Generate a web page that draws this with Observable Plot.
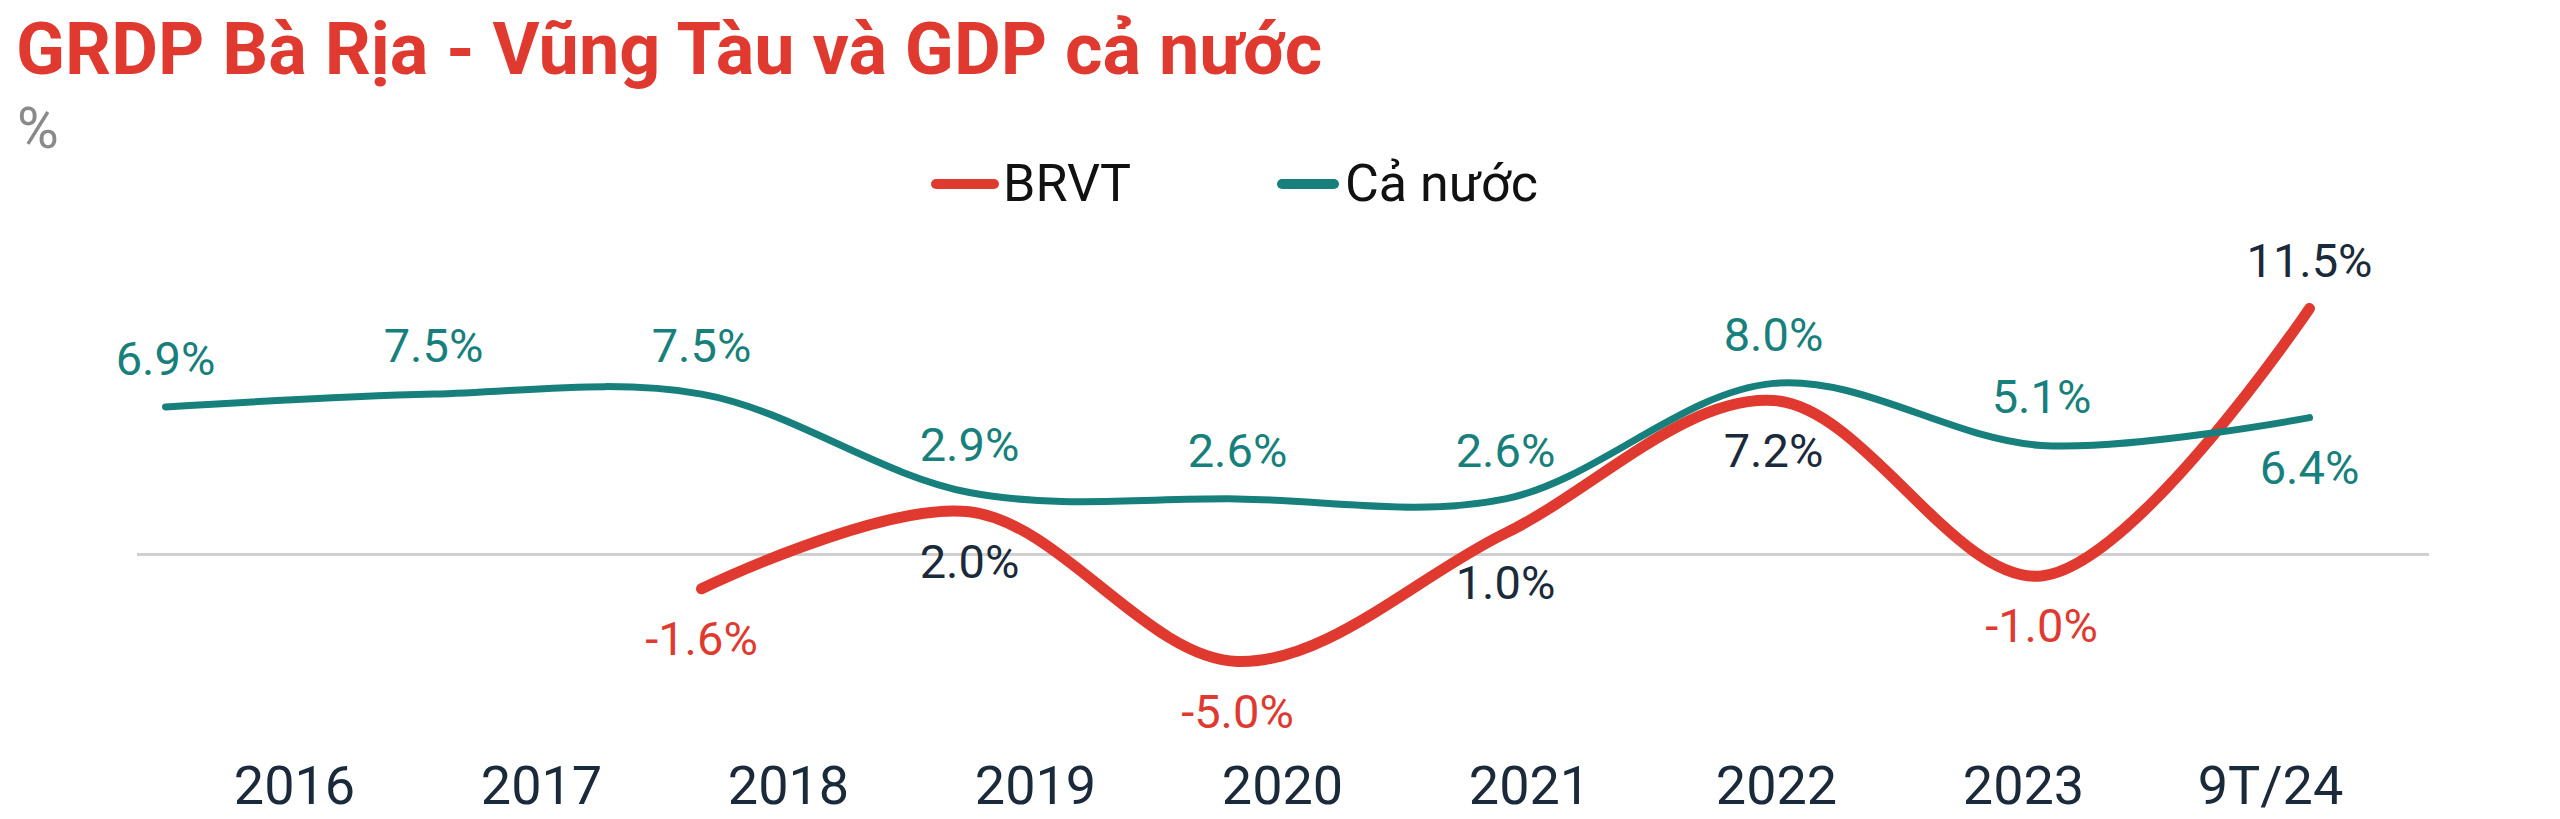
<!DOCTYPE html>
<html>
<head>
<meta charset="utf-8">
<script src="https://cdn.jsdelivr.net/npm/d3@7"></script>
<script src="https://cdn.jsdelivr.net/npm/@observablehq/plot@0.6"></script>
<style>
  html, body { margin: 0; padding: 0; background: #fff; }
  body { width: 2560px; height: 819px; overflow: hidden; position: relative; font-family: Roboto, "Noto Sans", sans-serif; }
  #title { position: absolute; left: 16px; top: 14px; font-size: 72px; line-height: 72px; font-weight: 700; color: #e03a30; white-space: nowrap; }
  #unit { position: absolute; left: 17px; top: 100px; font-size: 57px; line-height: 57px; color: #8a8a8a; }
  .leg-item { position: absolute; top: 158px; height: 52px; }
  .leg-sw { position: absolute; left: 0; top: 21px; width: 68px; height: 10px; border-radius: 5px; }
  .leg-tx { position: absolute; left: 72px; top: 0; font-size: 52px; line-height: 52px; color: #111; white-space: nowrap; }
  #chart { position: absolute; left: 0; top: 210px; }
  #axis { position: absolute; left: 0; top: 740px; }
</style>
</head>
<body>
<div id="title">GRDP Bà Rịa - Vũng Tàu và GDP cả nước</div>
<div id="unit">%</div>
<div id="legend"></div>
<div id="chart"></div>
<div id="axis"></div>
<script>
// ---- data ----
const categories = ["2016", "2017", "2018", "2019", "2020", "2021", "2022", "2023", "9T/24"];
const brvtValues = [null, null, -1.6, 2.0, -5.0, 1.0, 7.2, -1.0, 11.5];
const caNuocValues = [6.9, 7.5, 7.5, 2.9, 2.6, 2.6, 8.0, 5.1, 6.4];
const seriesNames = ["BRVT", "Cả nước"];
const seriesColors = ["#e03a30", "#17807c"];
const darkText = "#1b2a3a";

// ---- rows ----
const seriesValues = [brvtValues, caNuocValues];
const rows = [];
seriesNames.forEach((name, s) => {
  seriesValues[s].forEach((v, i) => {
    if (v == null) return;
    const other = seriesValues[1 - s][i];
    rows.push({series: name, s, cat: categories[i], value: v, above: other == null || v >= other});
  });
});
const labelFill = d => d.s === 1 ? seriesColors[1] : (d.value < 0 ? seriesColors[0] : darkText);
const fmt = d => d.value.toFixed(1) + "%";

// ---- legend ----
const legendX = [931, 1277];
const legend = document.getElementById("legend");
seriesNames.forEach((name, s) => {
  const item = document.createElement("div");
  item.className = "leg-item";
  item.style.left = legendX[s] + "px";
  const sw = document.createElement("div");
  sw.className = "leg-sw";
  sw.style.background = seriesColors[s];
  if (s === 1) sw.style.width = "62px";
  const tx = document.createElement("span");
  tx.className = "leg-tx";
  tx.textContent = name;
  if (s === 1) tx.style.left = "68px";
  item.append(sw, tx);
  legend.append(item);
});

// ---- main chart ----
const chart = Plot.plot({
  width: 2560,
  height: 609,
  marginLeft: 137,
  marginRight: 131,
  marginTop: 98,
  marginBottom: 158,
  style: {fontFamily: "Roboto, 'Noto Sans', sans-serif", background: "transparent"},
  x: {type: "point", domain: categories, range: [164, 2310], padding: 0, axis: null},
  y: {domain: [-5, 11.5], axis: null},
  marks: [
    Plot.ruleY([0], {stroke: "#d0d0d0", strokeWidth: 3}),
    Plot.line(rows.filter(d => d.s === 0), {x: "cat", y: "value", stroke: seriesColors[0], strokeWidth: 11, curve: "catmull-rom", strokeLinecap: "round", strokeLinejoin: "round"}),
    Plot.line(rows.filter(d => d.s === 1), {x: "cat", y: "value", stroke: seriesColors[1], strokeWidth: 7, curve: "catmull-rom", strokeLinecap: "round", strokeLinejoin: "round"}),
    Plot.text(rows.filter(d => d.above), {x: "cat", y: "value", text: fmt, fill: labelFill, fontSize: 47, dy: -47, lineAnchor: "middle"}),
    Plot.text(rows.filter(d => !d.above), {x: "cat", y: "value", text: fmt, fill: labelFill, fontSize: 47, dy: 51, lineAnchor: "middle"})
  ]
});
document.getElementById("chart").append(chart);

// ---- x axis (category labels) ----
const axis = Plot.plot({
  width: 2560,
  height: 79,
  marginTop: 63,
  marginBottom: 0,
  marginLeft: 0,
  marginRight: 0,
  style: {fontFamily: "Roboto, 'Noto Sans', sans-serif", background: "transparent"},
  x: {type: "point", domain: categories, range: [291, 2273], padding: 0, label: null},
  marks: [
    Plot.axisX({anchor: "top", tickSize: 0, tickPadding: 0, fontSize: 54, fill: darkText, label: null})
  ]
});
document.getElementById("axis").append(axis);
</script>
</body>
</html>
